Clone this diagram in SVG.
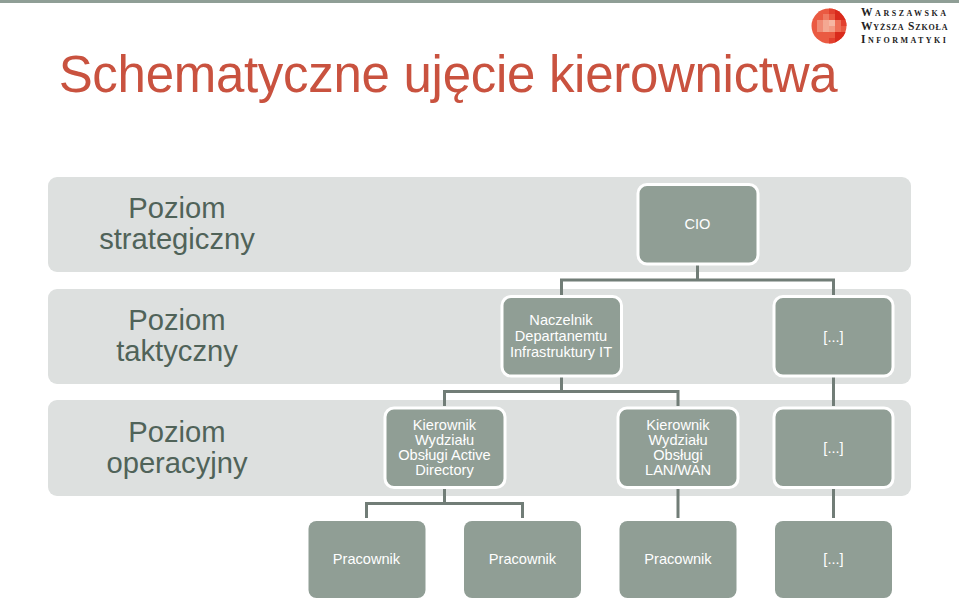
<svg xmlns="http://www.w3.org/2000/svg" width="959" height="599" viewBox="0 0 959 599">
<style>
text{font-family:"Liberation Sans",Arial,sans-serif;text-anchor:middle}
.band{fill:#dde0df}
.box{fill:#909e95;stroke:#fff;stroke-width:3}
.leaf{fill:#909e95}
.lbl{fill:#fff;font-size:14.600px}
.lvl{fill:#506359;font-size:29.200px}
.con{fill:none;stroke:#717d77;stroke-width:3}
.logo{font-family:"Liberation Serif",serif;fill:#222;text-anchor:start;font-size:11.500px;font-variant:small-caps;font-weight:bold;stroke:none}
</style>
<defs><clipPath id="disc"><circle cx="829" cy="26" r="17.500"/></clipPath></defs>
<rect width="959" height="3" fill="#8f9e96"/>
<text x="448" y="92" font-size="51" fill="#c9523f" style="letter-spacing:-.29px">Schematyczne ujęcie kierownictwa</text>
<g id="logo">
<g clip-path="url(#disc)">
<rect x="811" y="8" width="36" height="36" fill="#ea5a42"/>
<rect x="823" y="14" width="6" height="6" fill="#ef7a62"/>
<rect x="817" y="20" width="6" height="6" fill="#f08b75"/>
<rect x="823" y="20" width="6" height="12" fill="#f4a892"/>
<rect x="829" y="20" width="6" height="6" fill="#f6b7a3"/>
<rect x="829" y="26" width="6" height="6" fill="#f39c85"/>
<rect x="817" y="26" width="6" height="6" fill="#f08b75"/>
<rect x="835" y="20" width="6" height="12" fill="#ee6f57"/>
<rect x="829" y="8" width="6" height="6" fill="#e2402e"/>
<rect x="835" y="8" width="12" height="12" fill="#d92a1c"/>
<rect x="841" y="20" width="6" height="6" fill="#e2402e"/>
<rect x="835" y="32" width="12" height="12" fill="#d92a1c"/>
<rect x="829" y="38" width="6" height="6" fill="#e2402e"/>
</g>
<text class="logo" x="861" y="16" style="letter-spacing:2.550px">Warszawska</text>
<text class="logo" x="861" y="29.500" style="letter-spacing:.85px">Wyższa Szkoła</text>
<text class="logo" x="861" y="43" style="letter-spacing:2.450px">Informatyki</text>
</g>
<g id="bands">
<rect class="band" x="48" y="177" width="863" height="95" rx="9"/>
<rect class="band" x="48" y="289" width="863" height="95" rx="9"/>
<rect class="band" x="48" y="400" width="863" height="96" rx="9"/>
</g>
<g id="levels">
<text class="lvl" x="177" y="218">Poziom</text><text class="lvl" x="177" y="249">strategiczny</text>
<text class="lvl" x="177" y="330">Poziom</text><text class="lvl" x="177" y="361">taktyczny</text>
<text class="lvl" x="177" y="442">Poziom</text><text class="lvl" x="177" y="473">operacyjny</text>
</g>
<g id="connectors">
<path class="con" d="M697.500 265V280M561.500 295V280H833.500V295"/>
<path class="con" d="M561.500 377V391.500M444.500 406V391.500H678V406"/>
<path class="con" d="M833.500 377V406"/>
<path class="con" d="M444.500 488V503.500M366.500 518V503.500H522.500V518"/>
<path class="con" d="M678 488V518"/>
<path class="con" d="M833.500 488V518"/>
</g>
<g id="n-cio"><rect class="box" x="638" y="184.500" width="120" height="79.500" rx="9"/><text class="lbl" x="697.500" y="229">CIO</text></g>
<g id="n-naczelnik"><rect class="box" x="502" y="296.500" width="119.500" height="79.500" rx="9"/><text class="lbl" x="561" y="325">Naczelnik</text><text class="lbl" x="561" y="341">Departanemtu</text><text class="lbl" x="561" y="357">Infrastruktury IT</text></g>
<g id="n-etc1"><rect class="box" x="774" y="296.500" width="119" height="79.500" rx="9"/><text class="lbl" x="833.500" y="342">[...]</text></g>
<g id="n-kier1"><rect class="box" x="385" y="408" width="120" height="79.500" rx="9"/><text class="lbl" x="444.500" y="429.500">Kierownik</text><text class="lbl" x="444.500" y="444.500">Wydziału</text><text class="lbl" x="444.500" y="459.500">Obsługi Active</text><text class="lbl" x="444.500" y="474.500">Directory</text></g>
<g id="n-kier2"><rect class="box" x="618" y="408" width="120" height="79.500" rx="9"/><text class="lbl" x="678" y="429.500">Kierownik</text><text class="lbl" x="678" y="444.500">Wydziału</text><text class="lbl" x="678" y="459.500">Obsługi</text><text class="lbl" x="678" y="474.500">LAN/WAN</text></g>
<g id="n-etc2"><rect class="box" x="774" y="408" width="119" height="79.500" rx="9"/><text class="lbl" x="833.500" y="453">[...]</text></g>
<g id="n-prac1"><rect class="leaf" x="308.500" y="521" width="117" height="77" rx="8"/><text class="lbl" x="366.500" y="564">Pracownik</text></g>
<g id="n-prac2"><rect class="leaf" x="464" y="521" width="117" height="77" rx="8"/><text class="lbl" x="522.500" y="564">Pracownik</text></g>
<g id="n-prac3"><rect class="leaf" x="619.500" y="521" width="117" height="77" rx="8"/><text class="lbl" x="678" y="564">Pracownik</text></g>
<g id="n-etc3"><rect class="leaf" x="775" y="521" width="117" height="77" rx="8"/><text class="lbl" x="833.500" y="564">[...]</text></g>
</svg>
